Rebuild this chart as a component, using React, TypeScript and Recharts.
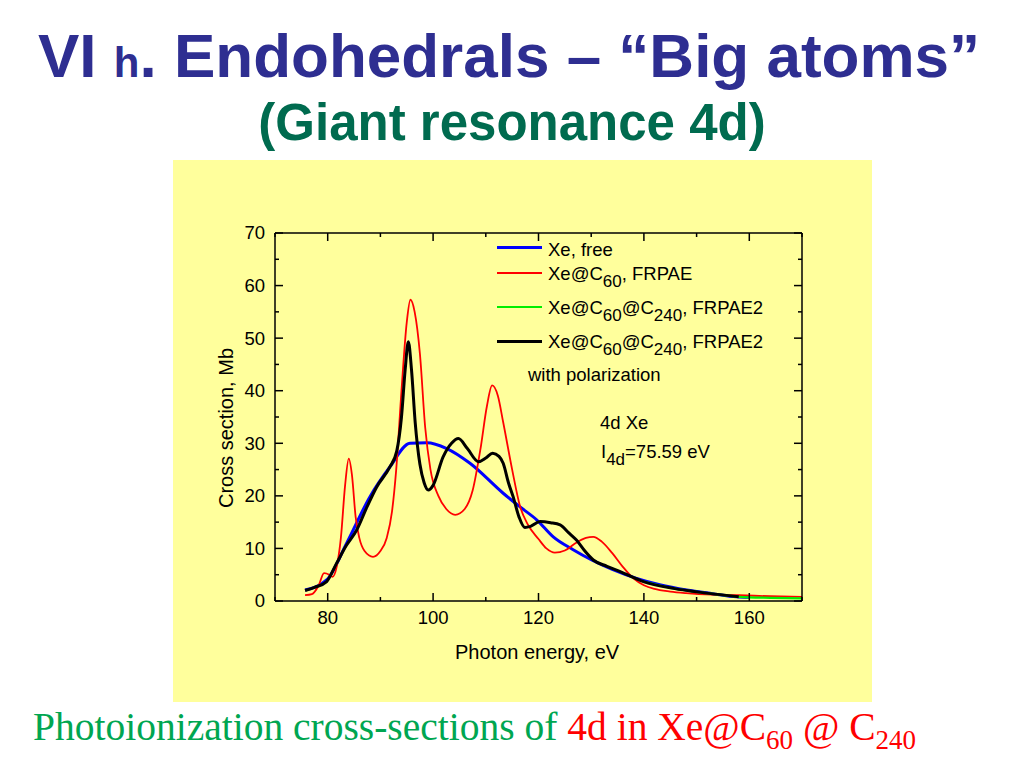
import React from "react";
import { LineChart, Line, XAxis, YAxis } from "recharts";

// photon energy (eV) / cross section (Mb)
const freeEnergy = [75.7, 79.8, 83.6, 88, 91.8, 95.6, 98.8, 102.6, 107, 113.3, 116.5, 119.7, 122.8, 126.5, 130.1, 134, 138.6, 143, 148.1, 153, 157.6, 160];
const freeSigma = [2.1, 4.0, 11, 19.8, 25.5, 30, 30.1, 29, 26.2, 20.5, 17.9, 15.4, 12.2, 9.8, 7.8, 6.0, 4.3, 3.1, 2.1, 1.4, 0.8, 0.7];

const c60Energy = [75.7, 77, 78.3, 79.3, 80.3, 80.9, 81.7, 82.5, 83.3, 84, 84.6, 85.3, 86, 87, 88.6, 90, 91.2, 92.2, 93, 94, 95, 95.7, 96.5, 97.5, 98.5, 99.5, 101, 102.5, 104.2, 106, 107.5, 109, 110.2, 111.2, 112.3, 113.3, 115, 116.5, 118, 120, 121.5, 123.1, 125, 127, 129, 130.4, 132, 134, 136, 138, 140, 142, 145, 148, 153, 158, 164, 170];
const c60Sigma = [1.1, 1.3, 3, 5.3, 5.0, 4.6, 6.5, 12, 22, 27.1, 24, 16, 12, 9.5, 8.4, 9.5, 12, 17, 25, 40, 53, 57.3, 55, 47, 33, 25, 20, 17.5, 16.4, 17.5, 21, 29, 37, 41, 39, 34, 25, 18, 14.5, 11.8, 10, 9.2, 9.6, 11, 12, 12.2, 11.3, 9.1, 6.5, 4.3, 3, 2.3, 1.8, 1.5, 1.2, 1.1, 0.9, 0.8];

const c240Energy = [139.9, 145.6, 151.9, 158, 164, 170];
const c240Sigma = [3.7, 2.4, 1.5, 0.8, 0.6, 0.5];

const polEnergy = [75.7, 77.5, 79.8, 81.7, 83.5, 85.5, 87.5, 89.3, 91.8, 93.1, 94, 94.7, 95.3, 95.9, 96.6, 97.5, 98.3, 99.1, 100, 101.9, 103.5, 104.8, 106.5, 108.6, 110, 111.3, 112.5, 113.3, 114.3, 115.2, 116.3, 117.4, 118.5, 120.3, 122.3, 124.1, 125.7, 127.2, 128.8, 130.4, 133, 135.5, 139.9, 145.6, 151.9, 158];
const polSigma = [2.0, 2.6, 3.7, 7.2, 10.5, 13.5, 18, 21.7, 25.5, 28.5, 35, 44, 49.3, 44, 34, 26, 22.5, 21.1, 22, 27.4, 30, 30.9, 29, 26.5, 27.2, 28.1, 27.5, 26.2, 22.5, 19.8, 16, 14, 14.2, 15.1, 14.9, 14.5, 13, 11.6, 9.5, 7.8, 6.6, 5.6, 3.7, 2.4, 1.5, 0.8];

const xTicks = [70, 80, 90, 100, 110, 120, 130, 140, 150, 160, 170];
const xLabels = [80, 100, 120, 140, 160];
const yTicks = [0, 5, 10, 15, 20, 25, 30, 35, 40, 45, 50, 55, 60, 65, 70];
const yLabels = [0, 10, 20, 30, 40, 50, 60, 70];

const toPoints = (e: number[], s: number[]) => e.map((v, i) => ({ e: v, s: s[i] }));

const SANS = "'Liberation Sans', Arial, sans-serif";
const SERIF = "'Liberation Serif', 'Times New Roman', serif";

const BottomTick = ({ x, y, payload }: any) => {
  const major = xLabels.includes(payload.value);
  return (
    <g>
      <line x1={x} y1={y} x2={x} y2={y - (major ? 8 : 4)} stroke="#000" strokeWidth={1.5} />
      {major && (
        <text x={x} y={y + 23} textAnchor="middle" fontSize={18.5} fontFamily={SANS} fill="#000">
          {payload.value}
        </text>
      )}
    </g>
  );
};

const TopTick = ({ x, y, payload }: any) => {
  const major = xLabels.includes(payload.value);
  return <line x1={x} y1={y} x2={x} y2={y + (major ? 8 : 4)} stroke="#000" strokeWidth={1.5} />;
};

const LeftTick = ({ x, y, payload }: any) => {
  const major = yLabels.includes(payload.value);
  return (
    <g>
      <line x1={x} y1={y} x2={x + (major ? 8 : 4)} y2={y} stroke="#000" strokeWidth={1.5} />
      {major && (
        <text x={x - 10} y={y} dy="0.35em" textAnchor="end" fontSize={18.5} fontFamily={SANS} fill="#000">
          {payload.value}
        </text>
      )}
    </g>
  );
};

const RightTick = ({ x, y, payload }: any) => {
  const major = yLabels.includes(payload.value);
  return <line x1={x} y1={y} x2={x - (major ? 8 : 4)} y2={y} stroke="#000" strokeWidth={1.5} />;
};

const abs = (left: number, top: number, extra: React.CSSProperties = {}): React.CSSProperties => ({
  position: "absolute",
  left,
  top,
  whiteSpace: "nowrap",
  lineHeight: 1,
  ...extra,
});

const Sub = ({ children, size = 17, drop = 7 }: any) => (
  <span style={{ fontSize: size, position: "relative", top: drop }}>{children}</span>
);

const legendRows = [
  { color: "#0000ff", width: 3, lineY: 247, textTop: 241, label: <>Xe, free</> },
  { color: "#ff0000", width: 2, lineY: 273, textTop: 265, label: <>Xe@C<Sub>60</Sub>, FRPAE</> },
  { color: "#00ee00", width: 2, lineY: 307, textTop: 299, label: <>Xe@C<Sub>60</Sub>@C<Sub>240</Sub>, FRPAE2</> },
  { color: "#000000", width: 3, lineY: 341, textTop: 333, label: <>Xe@C<Sub>60</Sub>@C<Sub>240</Sub>, FRPAE2</> },
];

export default function App() {
  return (
    <div style={{ position: "absolute", left: 0, top: 0, width: 1024, height: 768, background: "#fff", fontFamily: SANS }}>
      <div style={abs(38, 24.5, { fontSize: 62, fontWeight: "bold", color: "#2e2e91" })}>
        VI <span style={{ fontSize: 42 }}>h</span>. Endohedrals – “Big atoms”
      </div>
      <div style={abs(0, 97, { width: 1024, textAlign: "center", fontSize: 51, fontWeight: "bold", color: "#006b4f" })}>
        (Giant resonance 4d)
      </div>

      <div style={{ position: "absolute", left: 173, top: 160, width: 699, height: 542, background: "#ffff9c" }}>
        <LineChart width={699} height={542} margin={{ top: 63, right: 60, bottom: 71, left: 62 }}>
          <XAxis
            xAxisId="b"
            dataKey="e"
            type="number"
            domain={[70, 170]}
            allowDataOverflow
            ticks={xTicks}
            interval={0}
            height={30}
            tickSize={0}
            tickMargin={0}
            tick={<BottomTick />}
            axisLine={{ stroke: "#000", strokeWidth: 1.5 }}
          />
          <XAxis
            xAxisId="t"
            orientation="top"
            dataKey="e"
            type="number"
            domain={[70, 170]}
            allowDataOverflow
            ticks={xTicks}
            interval={0}
            height={10}
            tickSize={0}
            tickMargin={0}
            tick={<TopTick />}
            axisLine={{ stroke: "#000", strokeWidth: 1.5 }}
          />
          <YAxis
            yAxisId="l"
            type="number"
            domain={[0, 70]}
            allowDataOverflow
            ticks={yTicks}
            interval={0}
            width={40}
            tickSize={0}
            tickMargin={0}
            tick={<LeftTick />}
            axisLine={{ stroke: "#000", strokeWidth: 1.5 }}
          />
          <YAxis
            yAxisId="r"
            orientation="right"
            type="number"
            domain={[0, 70]}
            allowDataOverflow
            ticks={yTicks}
            interval={0}
            width={10}
            tickSize={0}
            tickMargin={0}
            tick={<RightTick />}
            axisLine={{ stroke: "#000", strokeWidth: 1.5 }}
          />
          <Line xAxisId="b" yAxisId="l" data={toPoints(freeEnergy, freeSigma)} dataKey="s" type="monotone" stroke="#0000ff" strokeWidth={3} dot={false} isAnimationActive={false} />
          <Line xAxisId="b" yAxisId="l" data={toPoints(c60Energy, c60Sigma)} dataKey="s" type="monotone" stroke="#ff0000" strokeWidth={1.8} dot={false} isAnimationActive={false} />
          <Line xAxisId="b" yAxisId="l" data={toPoints(c240Energy, c240Sigma)} dataKey="s" type="monotone" stroke="#00ee00" strokeWidth={2.2} dot={false} isAnimationActive={false} />
          <Line xAxisId="b" yAxisId="l" data={toPoints(polEnergy, polSigma)} dataKey="s" type="monotone" stroke="#000000" strokeWidth={3} dot={false} isAnimationActive={false} />
        </LineChart>
      </div>

      {/* legend and notes, drawn on top of the plot */}
      {legendRows.map((r, i) => (
        <React.Fragment key={i}>
          <div style={{ position: "absolute", left: 497, top: r.lineY - r.width / 2, width: 45, height: r.width, background: r.color }} />
          <div style={abs(548, r.textTop, { fontSize: 18.5 })}>{r.label}</div>
        </React.Fragment>
      ))}
      <div style={abs(528, 366, { fontSize: 18.5 })}>with polarization</div>
      <div style={abs(600, 414, { fontSize: 18.5 })}>4d Xe</div>
      <div style={abs(601, 443, { fontSize: 18.5 })}>
        I<Sub>4d</Sub>=75.59 eV
      </div>

      <div style={abs(455, 642, { fontSize: 20 })}>Photon energy, eV</div>
      <div style={abs(226, 428, { fontSize: 20, transform: "translate(-50%, -50%) rotate(-90deg)" })}>Cross section, Mb</div>

      <div style={abs(33, 708, { fontFamily: SERIF, fontSize: 39.5, color: "#00a651" })}>
        Photoionization cross-sections of{" "}
        <span style={{ color: "#ff0000" }}>
          4d in Xe@C<Sub size={27} drop={9}>60</Sub> @ C<Sub size={27} drop={9}>240</Sub>
        </span>
      </div>
    </div>
  );
}
